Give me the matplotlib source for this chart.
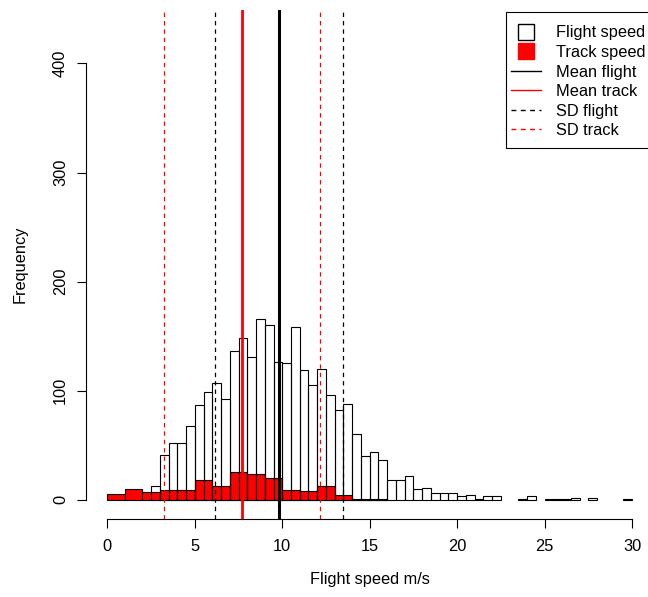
import numpy as np
import matplotlib
matplotlib.use('Agg')
import matplotlib.pyplot as plt
from matplotlib.lines import Line2D
from matplotlib.patches import Rectangle

plt.rcParams['font.family'] = ['Liberation Sans', 'DejaVu Sans']

# Flight speed histogram: 0.5 m/s bins starting at 0
flight_bin_width = 0.5
flight_counts = [0, 0, 0, 0, 0, 13, 41, 52, 52, 68,
                 87, 99, 107, 92, 136, 148, 131, 166, 160, 126,
                 125, 158, 119, 105, 120, 96, 82, 88, 60, 40,
                 44, 36, 18, 18, 22, 10, 11, 6, 6, 6,
                 3, 4, 1, 3, 3, 0, 0, 1, 3, 0,
                 1, 1, 1, 2, 0, 2, 0, 0, 0, 1]

# Track speed histogram: 1 m/s bins starting at 0
track_bin_width = 1.0
track_counts = [5, 10, 7, 9, 9, 18, 13, 25, 24, 20,
                9, 8, 13, 4, 1, 1, 0, 0, 0, 0,
                0, 0, 0, 0, 0, 0, 0, 0, 0, 0]

mean_flight, sd_flight = 9.80, 3.67
mean_track, sd_track = 7.70, 4.47

x_ticks = [0, 5, 10, 15, 20, 25, 30]
y_ticks = [0, 100, 200, 300, 400]

fs = 11.8
fig = plt.figure(figsize=(6.48, 5.97), dpi=100)
ax = fig.add_axes([86.4 / 648, (597 - 518.6) / 597, 566.6 / 648, 508.6 / 597])

# track speed (filled red) first, flight speed outlines on top
t_edges = np.arange(len(track_counts)) * track_bin_width
t_counts = np.array(track_counts)
keep = t_counts > 0
ax.bar(t_edges[keep], t_counts[keep], width=track_bin_width, align='edge',
       color='red', edgecolor='black', linewidth=0.8, zorder=1)

f_edges = np.arange(len(flight_counts)) * flight_bin_width
f_counts = np.array(flight_counts)
keep = f_counts > 0
ax.bar(f_edges[keep], f_counts[keep], width=flight_bin_width, align='edge',
       facecolor='none', edgecolor='black', linewidth=0.8, zorder=2)

dash = (0, (3.5, 3.2))
ax.axvline(mean_flight, color='black', lw=2.2, zorder=3)
ax.axvline(mean_track, color='red', lw=2.0, zorder=3)
for v in (mean_flight - sd_flight, mean_flight + sd_flight):
    ax.axvline(v, color='black', lw=0.9, linestyle=dash, zorder=3)
for v in (mean_track - sd_track, mean_track + sd_track):
    ax.axvline(v, color='red', lw=0.9, linestyle=dash, zorder=3)

ax.set_xlim(-1.2, 31.2)
ax.set_ylim(-17.3, 449)
ax.set_xticks(x_ticks)
ax.set_yticks(y_ticks)
for s in ('top', 'right'):
    ax.spines[s].set_visible(False)
ax.spines['bottom'].set_bounds(0, 30)
ax.spines['left'].set_bounds(0, 400)
ax.tick_params(direction='out', length=6.7, width=0.8, pad=6.5, labelsize=fs)
ax.tick_params(axis='x', pad=8)
ax.tick_params(axis='y', labelrotation=90)
for lbl in ax.get_yticklabels():
    lbl.set_va('center')

ax.set_xlabel('Flight speed m/s', fontsize=fs)
ax.xaxis.set_label_coords(0.5, -0.119)
ax.xaxis.label.set_va('center')
ax.set_ylabel('Frequency', fontsize=fs)
ax.yaxis.set_label_coords(-0.117, 0.5)
ax.yaxis.label.set_va('center')

# legend box drawn separately so it runs off the right edge like the original
box = Rectangle((506 / 648, (597 - 148.3) / 597), 0.5, (148.3 - 11.7) / 597,
                transform=fig.transFigure, facecolor='white', edgecolor='black',
                linewidth=0.8, zorder=4)
fig.patches.append(box)

handles = [
    Line2D([], [], marker='s', markersize=11, markerfacecolor='white',
           markeredgecolor='black', linestyle='none'),
    Line2D([], [], marker='s', markersize=11, markerfacecolor='red',
           markeredgecolor='red', linestyle='none'),
    Line2D([], [], color='black', lw=1),
    Line2D([], [], color='red', lw=1),
    Line2D([], [], color='black', lw=1, linestyle=dash),
    Line2D([], [], color='red', lw=1, linestyle=dash),
]
labels = ['Flight speed', 'Track speed', 'Mean flight', 'Mean track',
          'SD flight', 'SD track']
leg = fig.legend(handles, labels, loc='upper left',
                 bbox_to_anchor=(510.7 / 648, 1 - 25.5 / 597),
                 bbox_transform=fig.transFigure, borderaxespad=0,
                 fontsize=fs, frameon=False, handlelength=1.83,
                 handletextpad=0.93, labelspacing=0.275, borderpad=0)
leg.set_zorder(5)

fig.savefig('out.png', dpi=100)
